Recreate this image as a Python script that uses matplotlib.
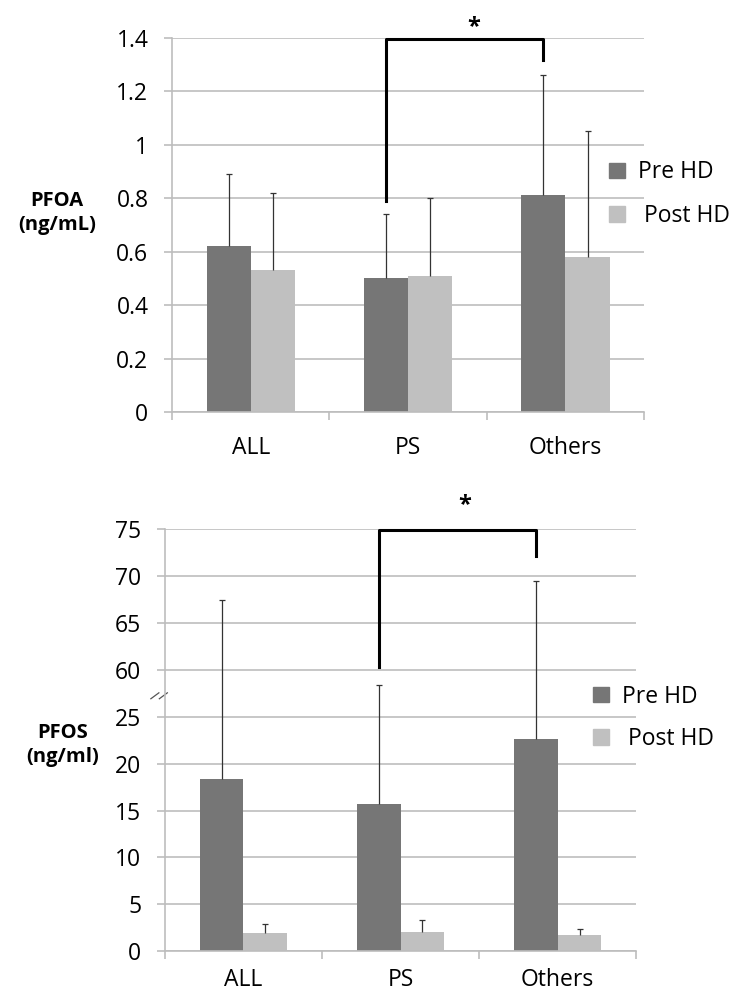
import numpy as np
import matplotlib
matplotlib.use("Agg")
import matplotlib.pyplot as plt
from matplotlib.patches import Patch

plt.rcParams['font.family'] = ['Open Sans', 'DejaVu Sans']

groups = ["ALL", "PS", "Others"]
series = ["Pre HD", " Post HD"]

# PFOA (ng/mL): mean and upper SD
pfoa_pre = [0.62, 0.50, 0.81]
pfoa_pre_sd = [0.27, 0.24, 0.45]
pfoa_post = [0.53, 0.51, 0.58]
pfoa_post_sd = [0.29, 0.29, 0.47]

# PFOS (ng/ml): mean and upper SD
pfos_pre = [18.4, 15.7, 22.6]
pfos_pre_sd = [49.0, 33.1, 46.9]
pfos_post = [2.0, 2.05, 1.7]
pfos_post_sd = [0.9, 1.25, 0.7]

pfoa_ticks = [0, 0.2, 0.4, 0.6, 0.8, 1.0, 1.2, 1.4]
pfoa_ticklabels = ["0", "0.2", "0.4", "0.6", "0.8", "1", "1.2", "1.4"]
pfos_ticks = [0, 5, 10, 15, 20, 25, 60, 65, 70, 75]

c_pre = "#767676"
c_post = "#c0c0c0"
c_grid = "#bdbdbd"
fs = 16.5
w = 0.28


def fwd(v):
    v = np.asarray(v, float)
    return np.where(v <= 25, v, np.where(v >= 60, v - 30, 25 + (v - 25) * 5 / 35))


def inv(p):
    p = np.asarray(p, float)
    return np.where(p <= 25, p, np.where(p >= 30, p + 30, 25 + (p - 25) * 35 / 5))


def draw(ax, pre, pre_sd, post, post_sd, xpad):
    x = np.arange(len(groups))
    ax.bar(x - w / 2, pre, w, color=c_pre, zorder=2)
    ax.bar(x + w / 2, post, w, color=c_post, zorder=2)
    for xs, m, sd in [(x - w / 2, pre, pre_sd), (x + w / 2, post, post_sd)]:
        eb = ax.errorbar(xs, m, yerr=[np.zeros(len(m)), sd], fmt="none",
                         ecolor="#333333", elinewidth=0.9, capsize=2.5, capthick=0.9, zorder=3)
        eb[1][0].set_visible(False)  # no cap at the bar top
    ax.set_xlim(-0.5, 2.5)
    ax.set_xticks(x)
    ax.set_xticklabels(groups, fontsize=fs)
    ax.set_xticks([-0.5, 0.5, 1.5, 2.5], minor=True)
    ax.tick_params(axis="x", which="major", length=0, pad=xpad)
    ax.tick_params(axis="x", which="minor", length=6, color=c_grid, width=1.2)
    ax.tick_params(axis="y", length=6, color=c_grid, width=1.2, pad=11, labelsize=fs)
    ax.yaxis.grid(True, color=c_grid, linewidth=1.2, zorder=0)
    ax.set_axisbelow(True)
    for s in ["top", "right"]:
        ax.spines[s].set_visible(False)
    for s in ["left", "bottom"]:
        ax.spines[s].set_color(c_grid)
        ax.spines[s].set_linewidth(1.2)


fig = plt.figure(figsize=(7.32, 9.96), dpi=100)

# top: PFOA
ax1 = fig.add_axes([0.235, 0.5863, 0.645, 0.376])
draw(ax1, pfoa_pre, pfoa_pre_sd, pfoa_post, pfoa_post_sd, 17)
ax1.set_ylim(0, 1.4)
ax1.set_yticks(pfoa_ticks)
ax1.set_yticklabels(pfoa_ticklabels)
ax1.plot([1 - w / 2, 1 - w / 2, 2 - w / 2, 2 - w / 2], [0.79, 1.395, 1.395, 1.315],
         color="black", lw=2.2, clip_on=False, zorder=4)
ax1.text(1.42, 1.44, "*", ha="center", va="center", fontsize=17, fontweight="bold")
fig.text(0.078, 0.786, "PFOA\n(ng/mL)", ha="center", va="center",
         fontsize=14.5, fontweight="bold", linespacing=1.25)
h = [Patch(color=c_pre), Patch(color=c_post)]
fig.legend(h, series, loc="center left", bbox_to_anchor=(0.832, 0.805), frameon=False,
           fontsize=fs, handlelength=0.68, handleheight=0.68, handletextpad=0.6,
           labelspacing=0.85, borderpad=0, borderaxespad=0)

# bottom: PFOS with broken axis
ax2 = fig.add_axes([0.2254, 0.0449, 0.6435, 0.424])
ax2.set_yscale("function", functions=(fwd, inv))
draw(ax2, pfos_pre, pfos_pre_sd, pfos_post, pfos_post_sd, 12)
ax2.set_ylim(0, 75)
ax2.set_yticks(pfos_ticks)
ax2.set_yticklabels([str(t) for t in pfos_ticks])
ax2.yaxis.set_minor_locator(matplotlib.ticker.NullLocator())
ax2.plot([1 - w / 2, 1 - w / 2, 2 - w / 2, 2 - w / 2], [60.3, 74.9, 74.9, 72.1],
         color="black", lw=2.2, clip_on=False, zorder=4)
ax2.text(1.41, 77.5, "*", ha="center", va="center", fontsize=17, fontweight="bold")
for dx in [0, 0.018]:
    ax2.plot([-0.03 + dx, -0.013 + dx], [0.598, 0.612], transform=ax2.transAxes,
             color="#555555", lw=0.9, clip_on=False)
fig.text(0.085, 0.252, "PFOS\n(ng/ml)", ha="center", va="center",
         fontsize=14.5, fontweight="bold", linespacing=1.25)
fig.legend(h, series, loc="center left", bbox_to_anchor=(0.810, 0.2793), frameon=False,
           fontsize=fs, handlelength=0.68, handleheight=0.68, handletextpad=0.6,
           labelspacing=0.8, borderpad=0, borderaxespad=0)

fig.savefig("out.png", dpi=100)
